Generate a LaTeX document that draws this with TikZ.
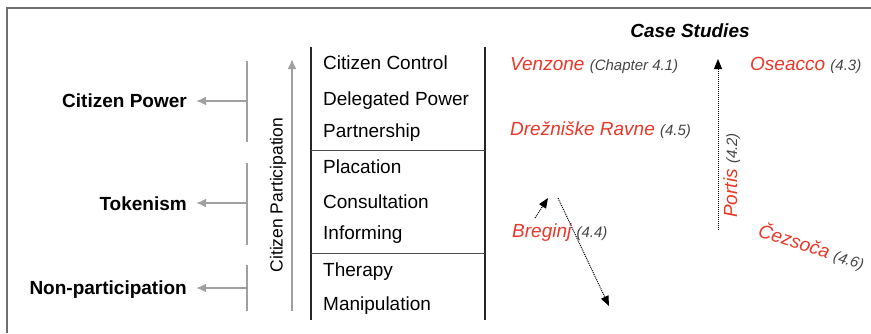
\documentclass[tikz,border=0pt]{standalone}
\usepackage{fontspec}
\setmainfont{Liberation Sans}
\usetikzlibrary{arrows.meta}
\definecolor{cred}{RGB}{232,56,42}
\definecolor{cgray}{RGB}{160,160,160}
\definecolor{numgray}{RGB}{70,70,70}
\definecolor{framegray}{RGB}{110,110,110}
\newcommand\numtxt[1]{{\color{numgray}\fontsize{15}{15}\selectfont\itshape #1}}
\begin{document}
\begin{tikzpicture}[x=1pt,y=-1pt,
  rung/.style={anchor=base west, font=\fontsize{19}{19}\selectfont, inner sep=0pt},
  grouplab/.style={anchor=base east, font=\fontsize{19}{19}\selectfont\bfseries, inner sep=0pt},
  bar/.style={draw=cgray, line width=2.8pt},
  garrow/.style={draw=cgray, line width=2.2pt, -{Latex[length=10pt,width=9pt]}},
  caselab/.style={anchor=base west, inner sep=0pt, font=\fontsize{19}{19}\selectfont\itshape, text=cred},
  darrow/.style={densely dotted, line width=1pt, -{Triangle[length=10pt,width=8pt]}},
  ladder/.style={line width=2pt, draw=black!85},
  sep/.style={line width=1pt, draw=black!70}
]
\useasboundingbox (0,0) rectangle (871,333);
\fill[white] (0,0) rectangle (871,333);
% frame
\draw[line width=2pt, framegray] (7,333) -- (7,8) -- (871,8);

% ladder
\draw[ladder] (311,47) -- (311,320);
\draw[ladder] (485,47) -- (485,320);
\draw[sep] (311,150) -- (485,150);
\draw[sep] (311,253) -- (485,253);

\node[rung] (r8) at (323,69) {Citizen Control};
\node[rung] (r7) at (323,105) {Delegated Power};
\node[rung] (r6) at (323,137) {Partnership};
\node[rung] (r5) at (323,173) {Placation};
\node[rung] (r4) at (323,208) {Consultation};
\node[rung] (r3) at (323,239) {Informing};
\node[rung] (r2) at (323,276) {Therapy};
\node[rung] (r1) at (323,310) {Manipulation};

% citizen participation arrow
\coordinate (cpb) at (292,311);
\coordinate (cpt) at (292,59);
\draw[garrow] (cpb) -- (cpt);
\node[rotate=90, font=\fontsize{17.5}{17.5}\selectfont, inner sep=0pt] (cplab) at (278,195) {Citizen Participation};

% groups
\draw[bar] (247,61) -- (247,142);
\draw[bar] (247,163) -- (247,245);
\draw[bar] (247,265) -- (247,311);
\coordinate (b1) at (247,101);
\coordinate (b2) at (247,203);
\coordinate (b3) at (247,288);
\node[grouplab] (g1) at (187,107) {Citizen Power};
\node[grouplab] (g2) at (187,210) {Tokenism};
\node[grouplab] (g3) at (187,294) {Non-participation};
\coordinate (t1) at (196,101);
\coordinate (t2) at (196,203);
\coordinate (t3) at (196,288);
\draw[garrow] (b1) -- (t1);
\draw[garrow] (b2) -- (t2);
\draw[garrow] (b3) -- (t3);

% case studies
\node[anchor=base, inner sep=0pt, font=\fontsize{19}{19}\selectfont\bfseries\itshape] (cs) at (690,37) {Case Studies};
\node[caselab] (venzone) at (510,70) {Venzone \numtxt{(Chapter 4.1)}};
\node[caselab] (oseacco) at (750,70) {Oseacco \numtxt{(4.3)}};
\node[caselab] (drez) at (510,135) {Drežniške Ravne \numtxt{(4.5)}};
\node[caselab] (breginj) at (512,237) {Breginj \numtxt{(4.4)}};
\node[caselab, rotate=90] (portis) at (737,218) {Portis \numtxt{(4.2)}};
\node[caselab, rotate=-18] (cez) at (757,236) {Čezsoča \numtxt{(4.6)}};

\coordinate (pa) at (718,230);
\coordinate (pb) at (718,59);
\draw[darrow] (pa) -- (pb);
\coordinate (ba) at (535,218);
\coordinate (bb) at (548,198);
\draw[darrow] (ba) -- (bb);
\coordinate (bc) at (558,198);
\coordinate (bd) at (609,306);
\draw[darrow] (bc) -- (bd);
\end{tikzpicture}
\end{document}
